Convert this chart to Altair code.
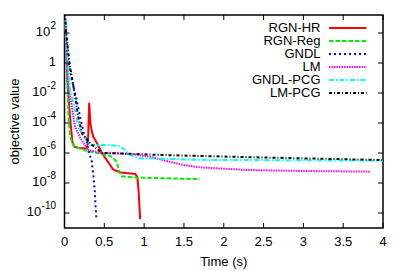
import altair as alt
import pandas as pd

series = ["RGN-HR", "RGN-Reg", "GNDL", "LM", "GNDL-PCG", "LM-PCG"]
colors = ["#ff0000", "#00ee00", "#0000ff", "#ff00ff", "#00ffff", "#000000"]
dashes = [[1, 0], [4.5, 2], [2, 3], [1.5, 1], [5, 2, 1.5, 2], [3, 2, 1, 2]]

# time (s) / objective value
rgn_hr_x = [0.005, 0.02, 0.04, 0.06, 0.08, 0.1, 0.13, 0.2, 0.28, 0.295, 0.31, 0.325, 0.34, 0.36, 0.42, 0.47,
            0.53, 0.61, 0.70, 0.89, 0.915, 0.93, 0.95]
rgn_hr_y = [2e3, 1e1, 3e-2, 1e-3, 6e-5, 5e-6, 2.5e-6, 2.1e-6, 2e-6, 5e-6, 2.2e-3, 1e-4, 3.4e-5, 1.3e-5,
            3.4e-6, 1e-6, 3.4e-7, 8e-8, 5e-8, 4e-8, 2.4e-8, 3.4e-9, 4e-11]

rgn_reg_x = [0.005, 0.02, 0.04, 0.05, 0.07, 0.11, 0.13, 0.28, 0.45, 0.57, 0.63, 0.66, 0.68, 0.72, 0.9, 1.2,
             1.37, 1.70]
rgn_reg_y = [2e3, 1e1, 1.6e-2, 2.5e-4, 1.3e-5, 3.4e-6, 2.5e-6, 1.4e-6, 9e-7, 6.3e-7, 3.5e-7, 2.5e-7,
             7.4e-8, 2.8e-8, 2.3e-8, 2.1e-8, 2e-8, 1.8e-8]

gndl_x = [0.005, 0.02, 0.05, 0.1, 0.15, 0.2, 0.24, 0.28, 0.30, 0.34, 0.36, 0.38, 0.39, 0.40]
gndl_y = [2e3, 1e2, 1.0, 5e-2, 4e-3, 2e-4, 2.5e-5, 6e-6, 1.3e-6, 3.4e-7, 4e-8, 3.4e-9, 3e-10, 4.5e-11]

lm_x = [0.005, 0.02, 0.05, 0.09, 0.13, 0.2, 0.3, 0.47, 0.66, 0.86, 1.07, 1.3, 1.49, 1.70, 2.29, 3.0, 3.84]
lm_y = [2e3, 1e1, 2.5e-2, 1.6e-3, 6e-5, 9.5e-6, 1.6e-6, 9.5e-7, 9.5e-7, 8.1e-7, 5.7e-7, 2.8e-7, 1.6e-7,
        1.1e-7, 7.4e-8, 6.3e-8, 5.7e-8]

gndl_pcg_x = [0.005, 0.02, 0.07, 0.12, 0.17, 0.24, 0.32, 0.57, 0.70, 0.76, 0.82, 0.95, 1.2, 1.70, 4.0]
gndl_pcg_y = [2e3, 3e1, 1.6e-2, 1.6e-3, 5.6e-5, 1.3e-5, 3.4e-6, 3.4e-6, 2.8e-6, 1.6e-6, 7.4e-7, 4.4e-7,
              4.2e-7, 3.5e-7, 3.1e-7]

lm_pcg_x = [0.005, 0.02, 0.07, 0.12, 0.17, 0.22, 0.32, 0.47, 0.68, 1.2, 2.5, 4.0]
lm_pcg_y = [2e3, 1e2, 0.56, 1.6e-2, 3e-4, 2e-5, 4.5e-6, 1e-6, 9.5e-7, 7.4e-7, 5e-7, 3.4e-7]

x_ticks = [0, 0.5, 1, 1.5, 2, 2.5, 3, 3.5, 4]
x_tick_labels = ["0", "0.5", "1", "1.5", "2", "2.5", "3", "3.5", "4"]
y_ticks = [1e2, 1, 1e-2, 1e-4, 1e-6, 1e-8, 1e-10]
y_tick_base = ["10", "1", "10", "10", "10", "10", "10"]
y_tick_exp = ["2", "", "-2", "-4", "-6", "-8", "-10"]

xs = [rgn_hr_x, rgn_reg_x, gndl_x, lm_x, gndl_pcg_x, lm_pcg_x]
ys = [rgn_hr_y, rgn_reg_y, gndl_y, lm_y, gndl_pcg_y, lm_pcg_y]
rows = []
for i, (s, xx, yy) in enumerate(zip(series, xs, ys)):
    for a, b in zip(xx, yy):
        rows.append({"series": s, "order": i, "t": a, "v": b})
df = pd.DataFrame(rows)

W, H = 318.5, 213
FONT = "Liberation Sans"
xscale = alt.Scale(domain=[0, 4], nice=False, zero=False)
yscale = alt.Scale(type="log", domain=[1e-11, 10 ** 3.2], nice=False)
cscale = alt.Scale(domain=series, range=colors)
dscale = alt.Scale(domain=series, range=dashes)

lines = alt.Chart(df).mark_line(strokeWidth=2, clip=True).encode(
    x=alt.X("t:Q", scale=xscale, axis=None),
    y=alt.Y("v:Q", scale=yscale, axis=None),
    color=alt.Color("series:N", scale=cscale, legend=None),
    strokeDash=alt.StrokeDash("series:N", scale=dscale, legend=None),
    detail="order:O",
    order="t:Q",
)

xt = pd.DataFrame({"t": x_ticks, "label": x_tick_labels})
yt = pd.DataFrame({"v": y_ticks, "base": y_tick_base, "exp": y_tick_exp})
xb = alt.Chart(xt).mark_rule(color="black", strokeWidth=1).encode(
    x=alt.X("t:Q", scale=xscale, axis=None), y=alt.value(H), y2=alt.value(H - 5))
xtop = alt.Chart(xt).mark_rule(color="black", strokeWidth=1).encode(
    x=alt.X("t:Q", scale=xscale, axis=None), y=alt.value(0), y2=alt.value(5))
yl = alt.Chart(yt).mark_rule(color="black", strokeWidth=1).encode(
    y=alt.Y("v:Q", scale=yscale, axis=None), x=alt.value(0), x2=alt.value(5))
yr = alt.Chart(yt).mark_rule(color="black", strokeWidth=1).encode(
    y=alt.Y("v:Q", scale=yscale, axis=None), x=alt.value(W - 5), x2=alt.value(W))

# x tick labels and title
xlabels = alt.Chart(xt).mark_text(
    align="center", baseline="middle", font=FONT, fontSize=13, color="black"
).encode(x=alt.X("t:Q", scale=xscale, axis=None), y=alt.value(H + 13.5), text="label:N")
xtitle = alt.Chart(pd.DataFrame({"label": ["Time (s)"]})).mark_text(
    align="center", baseline="middle", font=FONT, fontSize=13, color="black"
).encode(x=alt.value(W / 2), y=alt.value(H + 33.5), text="label:N")

# y tick labels: base "10" plus raised exponent
LX = -8.5
exp_w = {0: 0, 1: 5.8, 2: 9.2, 3: 14.8}
ylabel_layers = []
for L, w in exp_w.items():
    ylabel_layers.append(
        alt.Chart(yt).transform_filter(f"length(datum.exp) == {L}").mark_text(
            align="right", baseline="middle", font=FONT, fontSize=13, color="black", dy=-1
        ).encode(x=alt.value(LX - w), y=alt.Y("v:Q", scale=yscale, axis=None), text="base:N")
    )
ylabel_layers.append(
    alt.Chart(yt).transform_filter("length(datum.exp) > 0").mark_text(
        align="right", baseline="middle", font=FONT, fontSize=10, color="black", dy=-7
    ).encode(x=alt.value(LX), y=alt.Y("v:Q", scale=yscale, axis=None), text="exp:N")
)

ytitle = alt.Chart(pd.DataFrame({"label": ["objective value"]})).mark_text(
    angle=270, align="center", baseline="middle", font=FONT, fontSize=13, color="black"
).encode(x=alt.value(-49.3), y=alt.value(H / 2), text="label:N")

leg = pd.DataFrame({"series": series})
lscale = alt.Scale(type="point", domain=series, range=[13, 78], padding=0)
leg_text = alt.Chart(leg).mark_text(align="right", baseline="middle", font=FONT, fontSize=13,
                                    color="black").encode(
    x=alt.value(256), y=alt.Y("series:N", scale=lscale, axis=None), text="series:N")
leg_line = alt.Chart(leg).mark_rule(strokeWidth=2).encode(
    x=alt.value(264.5), x2=alt.value(302), y=alt.Y("series:N", scale=lscale, axis=None),
    color=alt.Color("series:N", scale=cscale, legend=None),
    strokeDash=alt.StrokeDash("series:N", scale=dscale, legend=None))

chart = alt.layer(lines, xb, xtop, yl, yr, xlabels, xtitle, *ylabel_layers, ytitle,
                  leg_text, leg_line).resolve_scale(
    y="independent"
).properties(
    width=W, height=H,
    autosize=alt.AutoSizeParams(type="none"),
    padding={"left": 56.5, "top": 7, "right": 16, "bottom": 43},
    background="white",
).configure_view(stroke="black", strokeWidth=1.5)

chart.save("out.html", embed_options={"renderer": "svg", "actions": False})
